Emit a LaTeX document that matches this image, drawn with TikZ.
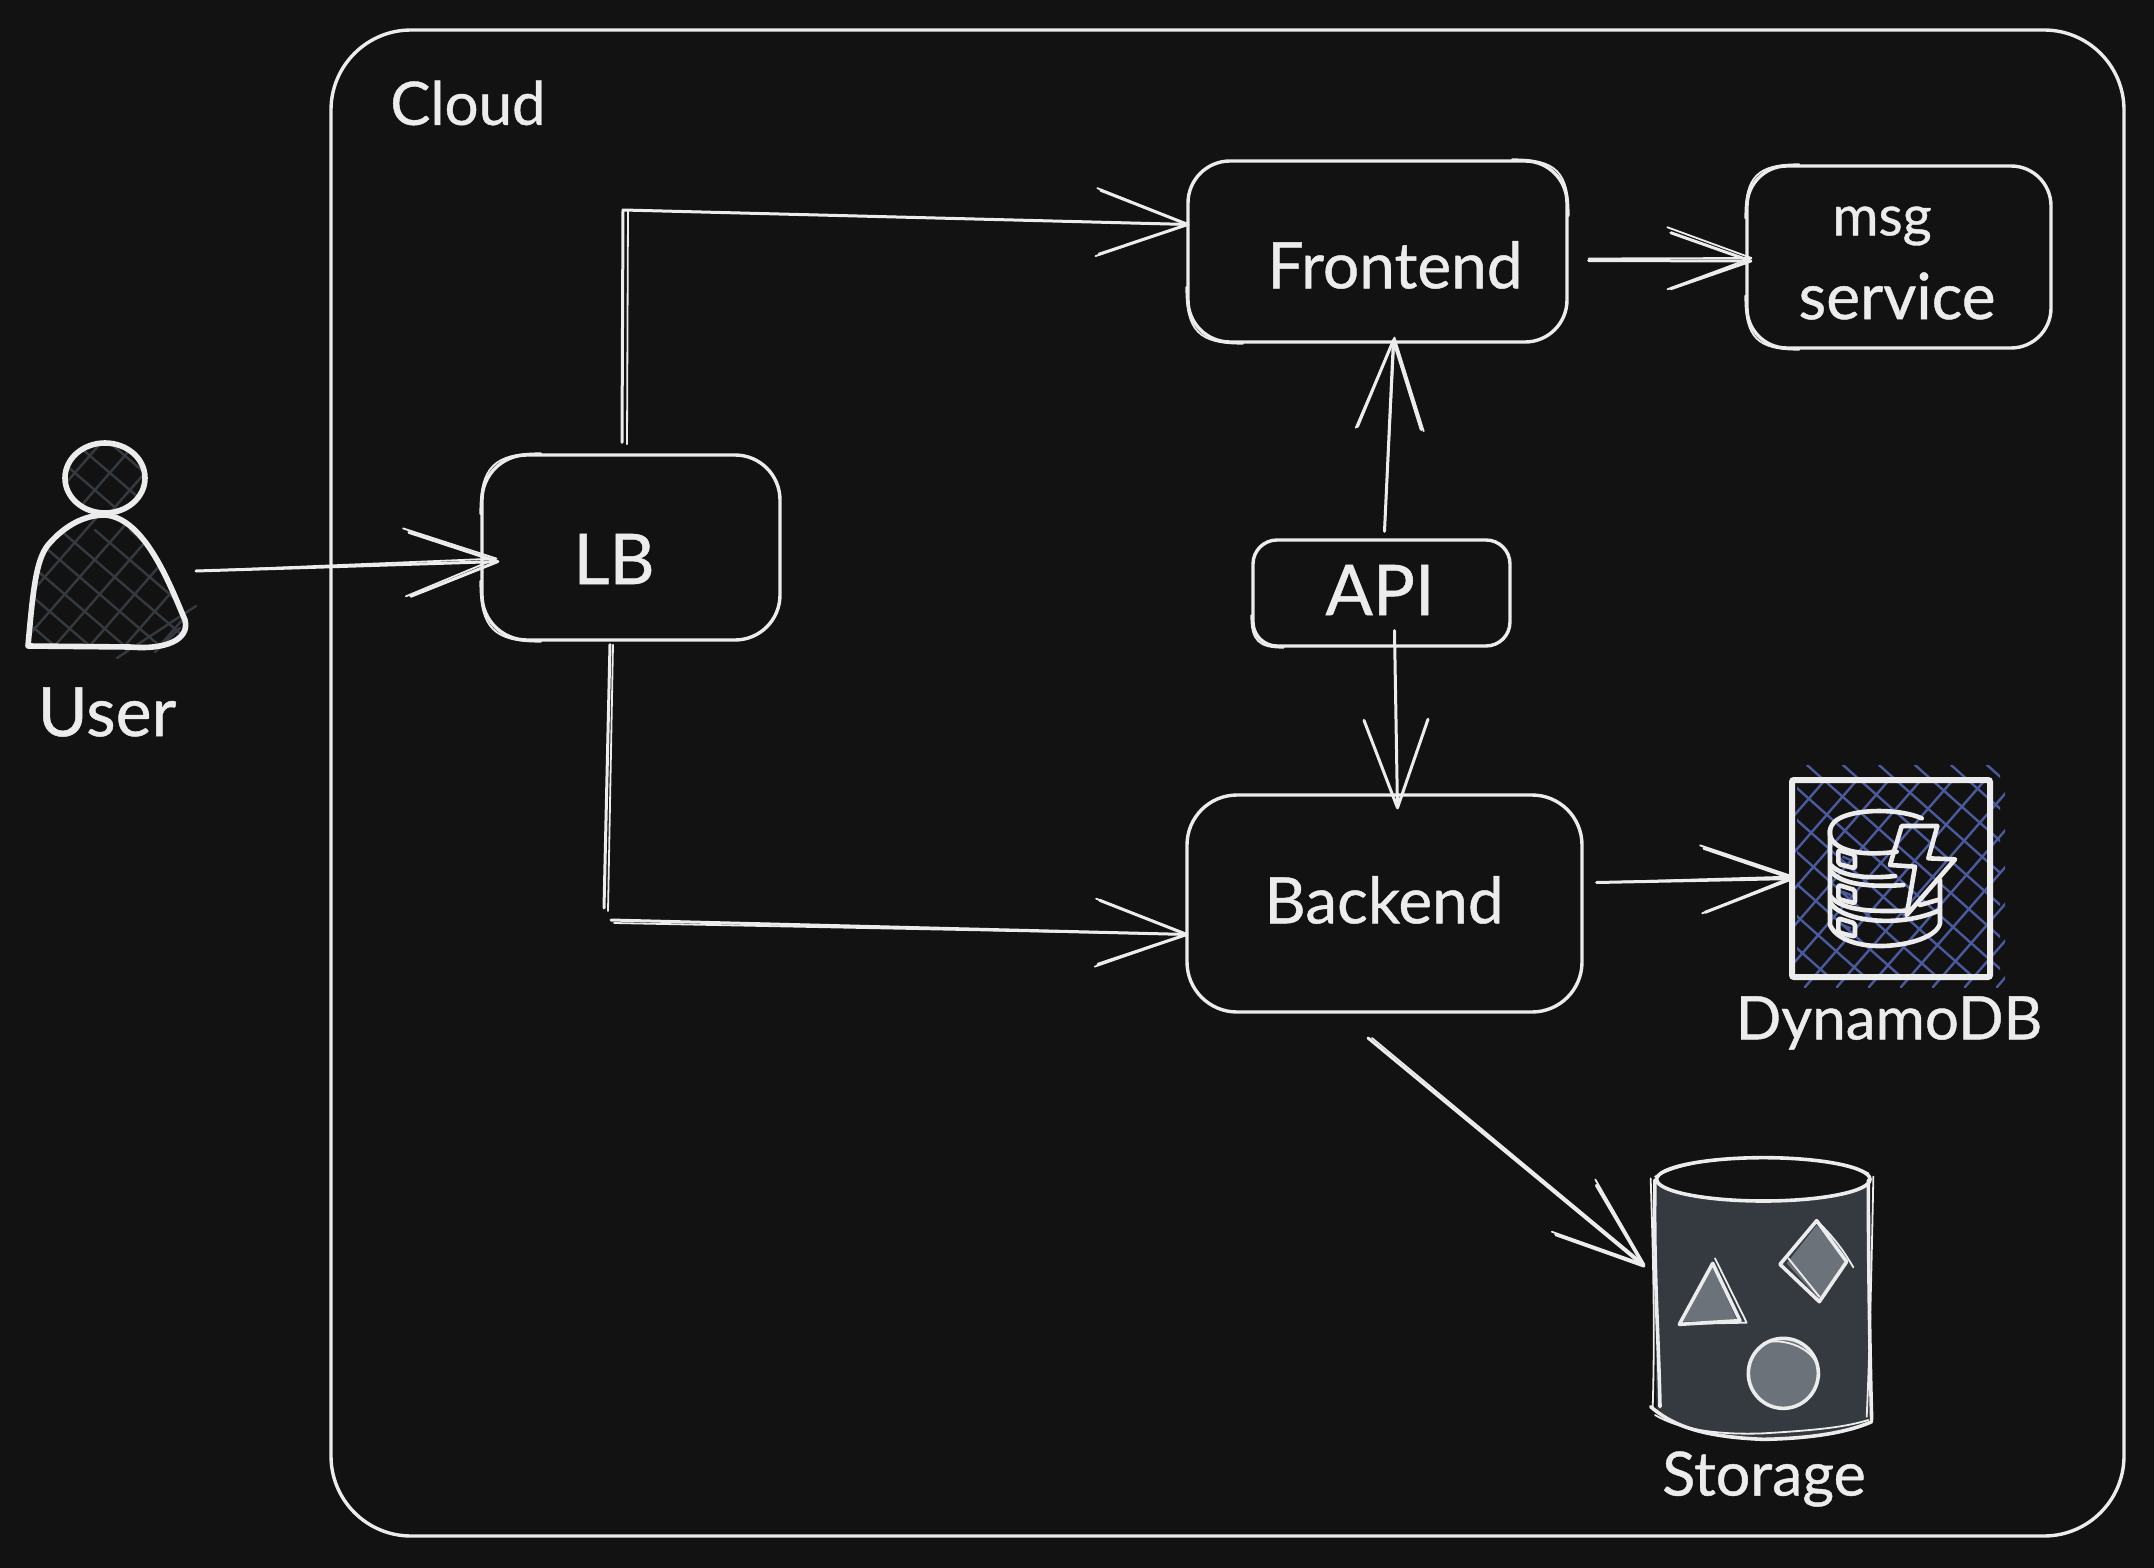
\documentclass[tikz,border=0pt]{standalone}
\usepackage{fontspec}
\setmainfont[FakeBold=0.7]{Lato}
\usetikzlibrary{arrows.meta,calc}
\definecolor{bg}{HTML}{121212}
\definecolor{ink}{HTML}{ECECEC}
\definecolor{hatchgrey}{HTML}{343A40}
\definecolor{hatchblue}{HTML}{4A5A9C}
\definecolor{shapegrey}{HTML}{6C727A}
\tikzset{
  box/.style={draw=ink,line width=1.7pt,inner sep=0pt,rounded corners=#1},
  box/.default=20pt,
  ghost/.style={draw=ink,line width=.9pt,line cap=round,line join=round},
  conn/.style={draw=ink,line width=1.5pt,line cap=round,line join=round,
    -{Straight Barb[length=44pt,width=32pt,round]}},
  ghostconn/.style={draw=ink,line width=.9pt,line cap=round,line join=round,
    -{Straight Barb[length=46pt,width=34pt,round]}},
  plainconn/.style={draw=ink,line width=1.5pt,line cap=round,line join=round},
  conns/.style={draw=ink,line width=1.5pt,line cap=round,line join=round,
    -{Straight Barb[length=40pt,width=28pt,round]}},
  ghostconns/.style={draw=ink,line width=.9pt,line cap=round,line join=round,
    -{Straight Barb[length=42pt,width=31pt,round]}},
  label/.style={text=ink,inner sep=0pt,font=\fontsize{#1}{#1}\selectfont},
  label/.default=30pt,
  heavy/.style={draw=ink,line width=2.8pt,line cap=round,line join=round},
  hatch/.style={line width=1.2pt,line cap=round},
}
\newcommand{\skbox}[6]{% name, x1,y1,x2,y2, r(px)
  \node[box=#6*.5pt,minimum width=(#4-#2)*.5pt,minimum height=(#5-#3)*.5pt] (#1) at ({(#2+#4)/2},{(#3+#5)/2}) {};
}
\newcommand{\skcorner}[4]{% anchor, dir x, dir y, r(px)
  \draw[ghost] ($(#1)+(0,#3*#4*1.35)$) .. controls ($(#1)+(0,#3*#4*.3)$) and ($(#1)+(#2*#4*.3,0)$) .. ($(#1)+(#2*#4*1.35,0)$);
}
\begin{document}
\begin{tikzpicture}[x=.5pt,y=-.5pt]
\useasboundingbox (0,0) rectangle (2154,1568);
\fill[bg] (0,0) rectangle (2154,1568);

% Cloud
\node[box=40pt,minimum width=896.5pt,minimum height=753pt] (cloud) at (1227.5,783) {};
\node[label=30pt] (cloudt) at (468,103) {Cloud};

% User
\begin{scope}
  \clip (105,478) ellipse (40 and 35);
  \foreach \k in {-6,...,6} {
    \draw[hatchgrey,hatch] (60+\k*35,430) -- ++(200,172);
    \draw[hatchgrey,hatch] (60+\k*35,530) -- ++(150,-172);
  }
\end{scope}
\begin{scope}
  \path[clip] (28,646) .. controls (33,590) and (36,560) .. (48,545)
    .. controls (65,525) and (85,515) .. (105,515)
    .. controls (145,518) and (170,585) .. (185,620)
    .. controls (190,640) and (165,650) .. (130,647) -- cycle;
  \foreach \k in {-8,...,8} {
    \draw[hatchgrey,hatch] (60+\k*35,530) -- ++(400,344);
    \draw[hatchgrey,hatch] (60+\k*35,720) -- ++(300,-344);
  }
\end{scope}
\draw[hatchgrey,hatch] (117,658) -- (196,606);
\draw[hatchgrey,hatch] (155,652) -- (180,628);
\draw[heavy] (105,478) ellipse (40 and 35);
\draw[heavy] (28,646) .. controls (33,590) and (36,560) .. (48,545)
    .. controls (65,525) and (85,515) .. (105,515)
    .. controls (145,518) and (170,585) .. (185,620)
    .. controls (190,640) and (165,650) .. (130,647) -- cycle;
\coordinate (user) at (196,571);
\node[label=34pt] (usert) at (107,712) {User};

% Boxes
\skbox{lb}{482}{455}{780}{640}{45}
\skcorner{lb.north west}{1}{1}{45}
\skcorner{lb.south west}{1}{-1}{45}
\node[label=35pt] (lbt) at (614,559) {LB};
\skbox{fe}{1188}{161}{1567}{342}{42}
\skcorner{fe.north east}{-1}{1}{42}
\skcorner{fe.south west}{1}{-1}{42}
\node[label=32pt] (fet) at (1395,265) {Frontend};
\skbox{msg}{1747}{166}{2051}{348}{40}
\skcorner{msg.north west}{1}{1}{40}
\skcorner{msg.south west}{1}{-1}{40}
\node[label=28pt] (msgt1) at (1882,226) {msg};
\node[label=32pt] (msgt2) at (1897,296) {service};
\skbox{api}{1253}{540}{1510}{646}{24}
\skcorner{api.south west}{1}{-1}{24}
\node[label=35pt] (apit) at (1380,590) {API};
\skbox{be}{1187}{795}{1582}{1012}{50}
\node[label=32pt] (bet) at (1384,900) {Backend};

% DynamoDB hatch
\begin{scope}
  \clip (1795,782) rectangle (2005,987);
  \foreach \k in {-6,...,6}
    \draw[hatchblue,hatch] (1805+\k*32,987) -- ++(200,-230);
\end{scope}
\begin{scope}
  \clip (1797,765) rectangle (2000,975);
  \foreach \k in {-6,...,5}
    \draw[hatchblue,hatch] (1807+\k*36,765) -- ++(250,222.5);
\end{scope}
\node[draw=ink,line width=3pt,rounded corners=1pt,inner sep=0pt,minimum width=99pt,minimum height=98.5pt] (db) at (1891,878.5) {};
\begin{scope}[shift={(1740,740)},x=.16667pt,y=-.16667pt]
  \tikzset{ic/.style={draw=ink,line width=2.3pt,line cap=round,line join=round}}
  \draw[ic] (545,235) .. controls (480,205) and (340,205) .. (290,240)
     .. controls (265,258) and (262,290) .. (285,310)
     .. controls (320,342) and (400,345) .. (470,335);
  \draw[ic] (270,270) -- (270,555) .. controls (290,600) and (360,620) .. (430,618)
     .. controls (510,615) and (590,590) .. (600,550) -- (600,420);
  \draw[ic] (272,375) .. controls (310,415) and (400,415) .. (465,408);
  \draw[ic] (272,392) .. controls (300,435) and (400,442) .. (490,435);
  \draw[ic] (272,470) .. controls (310,515) and (410,515) .. (500,512);
  \draw[ic] (272,490) .. controls (310,545) and (480,565) .. (600,510);
  \draw[ic] (540,495) -- (600,478);
  \draw[ic] (485,258) -- (592,258) -- (565,355) -- (645,358) -- (500,525) -- (525,380) -- (450,375) -- cycle;
  \foreach \yy in {330,435,535} {
    \draw[ic,rounded corners=1pt] (295,\yy) -- (345,\yy+15) -- (345,\yy+55) -- (295,\yy+42) -- cycle;
    \draw[hatchblue,line width=1.2pt] (307,\yy+20) -- (332,\yy+30);
  }
\end{scope}
\node[label=30pt] (dbt) at (1889,1023) {DynamoDB};

% Storage
\begin{scope}[shift={(1620,1130)},x=.16667pt,y=-.16667pt]
  \tikzset{st/.style={draw=ink,line width=1.8pt,line cap=round,line join=round}}
  \fill[hatchgrey] (100,150) -- (110,850) .. controls (200,900) and (260,925) .. (430,925)
     .. controls (600,925) and (700,900) .. (750,870) -- (750,150) -- cycle;
  \fill[bg] (430,148) ellipse (320 and 65);
  \draw[st] (430,148) ellipse (320 and 65);
  \draw[ghost] (105,140) .. controls (180,100) and (300,82) .. (430,82) .. controls (560,82) and (680,100) .. (745,130);
  \draw[st] (105,150) .. controls (100,400) and (115,600) .. (120,830);
  \draw[ghost] (92,145) .. controls (100,400) and (105,600) .. (98,835);
  \draw[st] (745,150) .. controls (745,400) and (750,700) .. (755,870);
  \draw[ghost] (760,140) .. controls (755,400) and (748,700) .. (740,860);
  \draw[st] (92,830) .. controls (150,880) and (230,920) .. (430,928) .. controls (600,925) and (700,900) .. (755,875);
  \draw[ghost] (105,855) .. controls (180,900) and (300,915) .. (430,910) .. controls (600,900) and (680,890) .. (745,870);
  % triangle
  \fill[shapegrey] (278,410) -- (350,570) -- (190,575) -- cycle;
  \draw[st] (278,400) -- (178,583) -- (360,572) -- cycle;
  \draw[ghost] (285,385) -- (380,578) -- (180,582);
  % diamond
  \fill[shapegrey] (590,285) -- (680,400) -- (600,510) -- (500,400) -- cycle;
  \draw[st] (590,272) -- (480,403) -- (598,515) -- (680,395) -- cycle;
  \draw[ghost] (590,272) .. controls (640,320) and (670,360) .. (700,412);
  \draw[ghost] (505,385) -- (598,500);
  % circle
  \fill[shapegrey] (490,730) circle (100);
  \draw[st] (490,730) circle (105);
  \draw[ghost] (430,640) .. controls (480,620) and (600,650) .. (598,740);
\end{scope}
\node[draw=none,inner sep=0pt,minimum width=110pt,minimum height=140pt] (storage) at (1762,1297) {};
\node[label=30.5pt] (stt) at (1764,1479) {Storage};

% Connectors
\coordinate (fein) at ($(fe.west)+(3,-27)$);
\draw[conn] ($(lb.north)+(-9,-11)$) -- (623,210) -- (fein);
\draw[ghostconn] ($(lb.north)+(-4,-9)$) -- (628,210) -- (fein);
\coordinate (bein) at ($(be.west)+(3,31)$);
\draw[plainconn] ($(lb.south)+(-21,3)$) -- (604,908);
\draw[conn] (611,920) -- (bein);
\draw[ghost] ($(lb.south)+(-18,3)$) -- (608,911);
\draw[ghostconn] (614,923) -- (bein);
\draw[conn] (user) -- ($(lb.west)+(19,14)$);
\draw[ghostconn] (user) -- ($(lb.west)+(17,11)$);
\draw[conn] ($(api.north)+(3,-7)$) -- ($(fe.south)+(16,-5)$);
\draw[ghostconn] ($(api.north)+(3,-7)$) -- ($(fe.south)+(17,-7)$);
\draw[conn] ($(api.south)+(13,-17)$) -- ($(be.north)+(13,16)$);
\draw[conns] ($(fe.east)+(20,9)$) -- ($(msg.west)+(7,4)$);
\draw[ghostconns] ($(fe.east)+(20,7)$) -- ($(msg.west)+(7,1)$);
\draw[conn] ($(be.east)+(13,-21)$) -- ($(db.west)+(5,0)$);
\draw[ghostconn] ($(be.east)+(13,-21)$) -- ($(db.west)+(5,-2)$);
\draw[conn] (1368,1038) -- (1645,1267);
\draw[ghostconn] (1372,1038) -- (1645,1265);
\end{tikzpicture}
\end{document}
